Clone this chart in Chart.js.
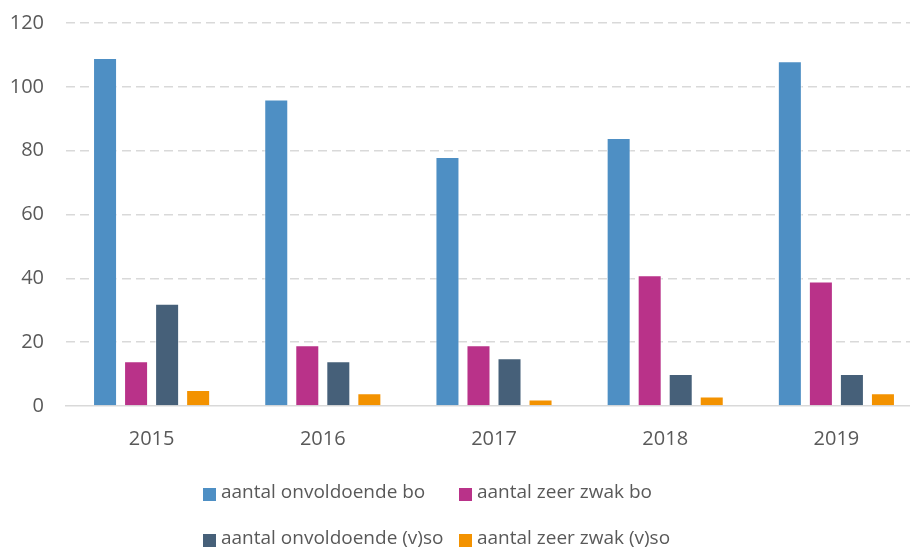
<!DOCTYPE html>
<html>
<head>
<meta charset="utf-8">
<script src="https://cdn.jsdelivr.net/npm/chart.js@4/dist/chart.umd.min.js"></script>
<style>
  html, body { margin: 0; padding: 0; background: #fff; overflow: hidden; }
  #wrap { position: relative; width: 922px; height: 547px; }
  #legend {
    position: absolute; left: 203px; top: 476px;
    display: grid; grid-template-columns: 256px auto; row-gap: 16px;
    font-family: "Open Sans", sans-serif; font-size: 19px; color: #595959;
  }
  #legend div { display: flex; align-items: center; height: 30px; white-space: nowrap; }
  #legend span.box { display: inline-block; width: 13px; height: 13px; margin-right: 5px; margin-top: 6px; }
</style>
</head>
<body>
<div id="wrap">
  <canvas id="chart" width="922" height="547"></canvas>
  <div id="legend"></div>
</div>
<script>
var years = ["2015", "2016", "2017", "2018", "2019"];
var onvoldoendeBo = [109, 96, 78, 84, 108];
var zeerZwakBo = [14, 19, 19, 41, 39];
var onvoldoendeVso = [32, 14, 15, 10, 10];
var zeerZwakVso = [5, 4, 2, 3, 4];
var yTicks = [0, 20, 40, 60, 80, 100, 120];

var chart;

function makeSet(label, data, color) {
    return {
        label: label,
        data: data,
        backgroundColor: color,
        borderColor: "rgba(255,255,255,0.6)",
        borderWidth: 1,
        categoryPercentage: 0.725,
        barPercentage: 0.774
    };
}

function CreateChart(ctx) {
    chart = new Chart(ctx, {
        type: 'bar',
        data: {
            labels: years,
            datasets: [
                makeSet("aantal onvoldoende bo", onvoldoendeBo, "#4E8FC4"),
                makeSet("aantal zeer zwak bo", zeerZwakBo, "#B93289"),
                makeSet("aantal onvoldoende (v)so", onvoldoendeVso, "#466079"),
                makeSet("aantal zeer zwak (v)so", zeerZwakVso, "#F39200")
            ]
        },
        options: {
            responsive: false,
            animation: false,
            layout: { padding: { left: 8, top: 23, right: 0, bottom: 83 } },
            plugins: {
                legend: { display: false },
                tooltip: { enabled: false }
            },
            scales: {
                x: {
                    grid: { display: false },
                    border: { display: true, color: "#d9d9d9", width: 1.5 },
                    ticks: {
                        color: "#595959",
                        padding: 13,
                        font: { family: "Open Sans", size: 20 }
                    }
                },
                y: {
                    min: 0,
                    max: 120,
                    afterBuildTicks: function (axis) {
                        axis.ticks = yTicks.map(v => ({ value: v }));
                    },
                    afterFit: function (axis) {
                        axis.width = 58;
                        axis.paddingTop = 0;
                    },
                    grid: {
                        drawTicks: false,
                        lineWidth: 1.5,
                        color: c => c.tick && c.tick.value === 0 ? "rgba(0,0,0,0)" : "#d9d9d9"
                    },
                    border: { display: false, dash: [9, 5] },
                    ticks: {
                        color: "#595959",
                        padding: 22,
                        font: { family: "Open Sans", size: 20 }
                    }
                }
            }
        }
    });
}

CreateChart(document.getElementById("chart"));

var legend = document.getElementById("legend");
chart.data.datasets.forEach(set => {
    var item = document.createElement("div");
    var box = document.createElement("span");
    box.className = "box";
    box.style.background = set.backgroundColor;
    item.appendChild(box);
    item.appendChild(document.createTextNode(set.label));
    legend.appendChild(item);
});
</script>
</body>
</html>
